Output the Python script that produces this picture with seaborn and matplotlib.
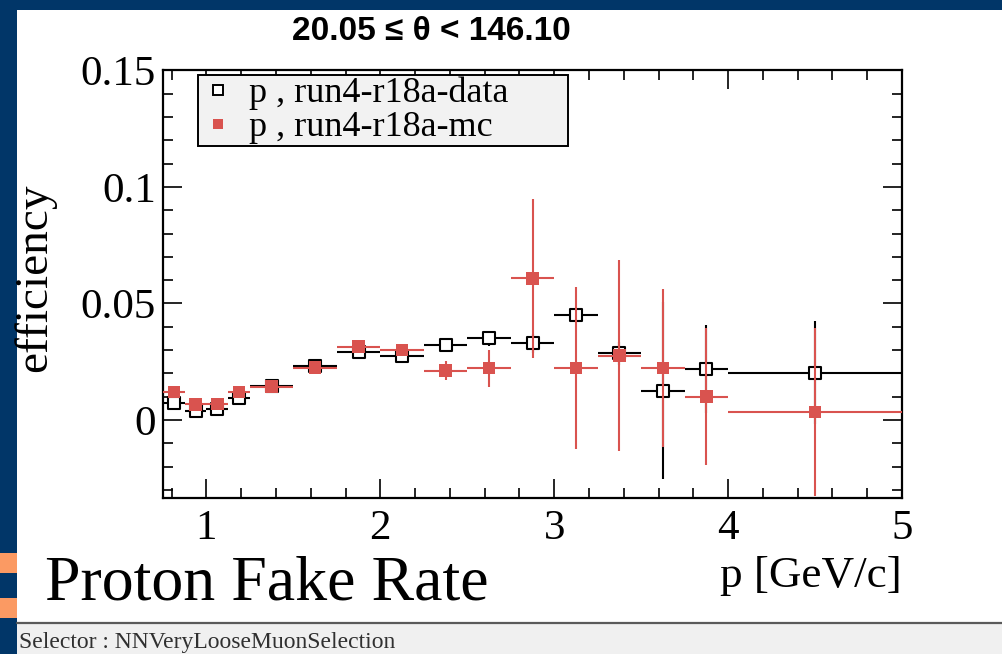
import numpy as np
import pandas as pd
import seaborn as sns
import matplotlib
matplotlib.use("Agg")
import matplotlib.pyplot as plt
from matplotlib.patches import Rectangle
from matplotlib.lines import Line2D
from matplotlib.ticker import MultipleLocator

# ---------------- data ----------------
p_center = [0.8125, 0.9375, 1.0625, 1.1875, 1.375, 1.625, 1.875, 2.125,
            2.375, 2.625, 2.875, 3.125, 3.375, 3.625, 3.875, 4.5]
p_halfwidth = [0.0625, 0.0625, 0.0625, 0.0625, 0.125, 0.125, 0.125, 0.125,
               0.125, 0.125, 0.125, 0.125, 0.125, 0.125, 0.125, 0.5]
data_eff = [0.0072, 0.0040, 0.0046, 0.0093, 0.0145, 0.0232, 0.0293, 0.0275,
            0.0322, 0.0351, 0.0329, 0.0451, 0.0286, 0.0126, 0.0219, 0.0203]
data_err = [0.0015, 0.0012, 0.0012, 0.0015, 0.0015, 0.0015, 0.0018, 0.0018,
            0.0025, 0.0032, 0.0040, 0.0025, 0.0050, 0.0380, 0.0190, 0.0220]
mc_eff = [0.0121, 0.0067, 0.0069, 0.0121, 0.0143, 0.0225, 0.0315, 0.0300,
          0.0212, 0.0222, 0.0608, 0.0222, 0.0276, 0.0222, 0.0100, 0.0033]
mc_err = [0.0010, 0.0010, 0.0010, 0.0010, 0.0012, 0.0012, 0.0015, 0.0015,
          0.0040, 0.0080, 0.0340, 0.0347, 0.0410, 0.0340, 0.0295, 0.0360]
series_labels = ["p , run4-r18a-data", "p , run4-r18a-mc"]
title_text = "20.05 \u2264 \u03b8 < 146.10"
x_label = "p [GeV/c]"
y_label = "efficiency"
slide_title = "Proton Fake Rate"
footer_text = "Selector : NNVeryLooseMuonSelection"

df_data = pd.DataFrame({"p": p_center, "eff": data_eff})
df_mc = pd.DataFrame({"p": p_center, "eff": mc_eff})

# ---------------- style ----------------
sns.set_theme(style="ticks")
plt.rcParams["font.family"] = ["Liberation Serif", "DejaVu Serif"]
plt.rcParams["text.color"] = "black"
plt.rcParams["axes.labelcolor"] = "black"
plt.rcParams["xtick.color"] = "black"
plt.rcParams["ytick.color"] = "black"

W, H = 1002, 654
fig = plt.figure(figsize=(W / 100, H / 100), dpi=100)
fig.patch.set_facecolor("white")

blue = "#013668"
orange = "#fb9a63"
red = "#d9534f"

# slide decorations
fig.add_artist(Rectangle((0, 1 - 9.5 / H), 1, 9.5 / H, transform=fig.transFigure,
                         facecolor=blue, edgecolor="none", zorder=0))
fig.add_artist(Rectangle((0, 0), 17 / W, 1, transform=fig.transFigure,
                         facecolor=blue, edgecolor="none", zorder=0))
for y0, y1 in [(553, 573), (598, 618)]:
    fig.add_artist(Rectangle((0, 1 - y1 / H), 17 / W, (y1 - y0) / H,
                             transform=fig.transFigure, facecolor=orange,
                             edgecolor="none", zorder=1))
fig.add_artist(Rectangle((17 / W, 0), 1 - 17 / W, (H - 623) / H,
                         transform=fig.transFigure, facecolor="#f0f0f0",
                         edgecolor="none", zorder=0))
fig.add_artist(Line2D([17 / W, 1], [1 - 623 / H, 1 - 623 / H],
                      transform=fig.transFigure, color="#5a5a5a", lw=1.6, zorder=1))

# ---------------- axes ----------------
ax = fig.add_axes([163 / W, 1 - 498 / H, 739 / W, 428 / H])
ax.set_facecolor("white")

ax.errorbar(p_center, data_eff, xerr=p_halfwidth, yerr=data_err, fmt="none",
            ecolor="black", elinewidth=1.5, capsize=0, zorder=2)
sns.scatterplot(data=df_data, x="p", y="eff", marker="s", s=70, color="white",
                edgecolor="black", linewidth=1.5, zorder=3, ax=ax, legend=False)
ax.errorbar(p_center, mc_eff, xerr=p_halfwidth, yerr=mc_err, fmt="none",
            ecolor=red, elinewidth=1.5, capsize=0, zorder=4)
sns.scatterplot(data=df_mc, x="p", y="eff", marker="s", s=80, color=red,
                edgecolor="none", linewidth=0, zorder=5, ax=ax, legend=False)

ax.set_xlim(0.75, 5.0)
ax.set_ylim(-0.0335, 0.1502)
ax.xaxis.set_major_locator(MultipleLocator(1))
ax.xaxis.set_minor_locator(MultipleLocator(0.2))
ax.yaxis.set_major_locator(MultipleLocator(0.05))
ax.yaxis.set_minor_locator(MultipleLocator(0.01))
ax.set_yticks([0, 0.05, 0.1, 0.15])
ax.set_yticklabels(["0", "0.05", "0.1", "0.15"])
ax.set_xticks([1, 2, 3, 4, 5])
ax.set_xticklabels(["1", "2", "3", "4", "5"])

ax.tick_params(which="both", direction="in", top=True, right=True,
               colors="black", width=1.2)
ax.tick_params(which="major", length=14, labelsize=31)
ax.tick_params(which="minor", length=7)
ax.tick_params(axis="x", which="major", pad=8)
ax.tick_params(axis="y", which="major", pad=5)
for s in ax.spines.values():
    s.set_visible(True)
    s.set_color("black")
    s.set_linewidth(1.6)

ax.set_xlabel(x_label, fontsize=32.5, loc="right", labelpad=6, color="black")
ax.set_ylabel(y_label, fontsize=34, va="center", color="black")
ax.yaxis.set_label_coords((35 - 163) / 739, 1 - (278 - 70) / 428)

# legend
handles = [
    Line2D([], [], ls="none", marker="s", ms=7, mfc="white", mec="black", mew=1.4),
    Line2D([], [], ls="none", marker="s", ms=7, mfc=red, mec=red, mew=0),
]
leg = ax.legend(handles, series_labels, loc="upper left",
                bbox_to_anchor=(198 / W, 1 - 149 / H, 370 / W, 74 / H),
                bbox_transform=fig.transFigure, mode="expand", borderaxespad=0,
                fontsize=26, frameon=True, fancybox=False, framealpha=1,
                facecolor="#f2f2f2", edgecolor="black", borderpad=0.05,
                labelspacing=0.02, handlelength=1.0, handletextpad=0.35)
leg.get_frame().set_linewidth(1.4)
leg.set_zorder(10)
for t in leg.get_texts():
    t.set_color("black")

# texts
fig.text(431 / W, 1 - 32 / H, title_text, ha="center", va="center", color="black",
         fontsize=24, fontweight="bold", family=["Liberation Sans", "DejaVu Sans"])
fig.text(45 / W, 1 - 600 / H, slide_title, ha="left", va="baseline", fontsize=46,
         color="black")
fig.text(19 / W, 1 - 648 / H, footer_text, ha="left", va="baseline",
         fontsize=17, color="#303030")

fig.savefig("out.png", dpi=100, facecolor=fig.get_facecolor())
